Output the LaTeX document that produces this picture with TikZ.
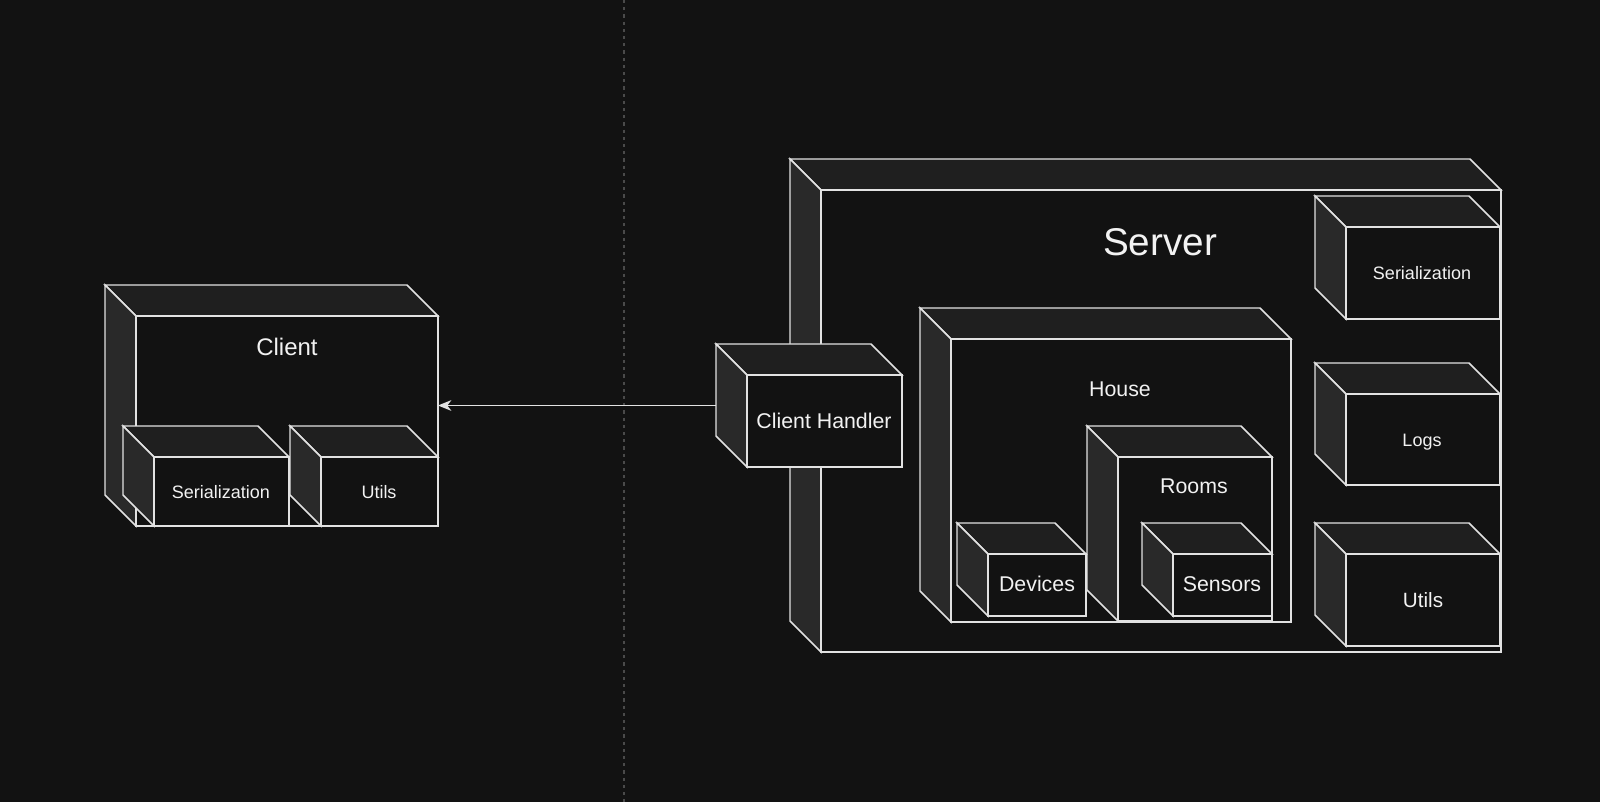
\documentclass[tikz,border=0pt]{standalone}
\usepackage{fontspec}
\setmainfont{Liberation Sans}
\usetikzlibrary{arrows.meta}
\definecolor{bgc}{HTML}{121212}
\definecolor{topc}{HTML}{1F1F1F}
\definecolor{sidec}{HTML}{292929}
\definecolor{linec}{HTML}{E2E2E2}
\definecolor{txtc}{HTML}{F2F2F2}
\definecolor{divc}{HTML}{4A4A4A}
\tikzset{
  edge/.style={draw=linec, line width=1.1pt, line join=miter},
  lbl/.style={text=txtc, inner sep=0pt, text depth=0pt, anchor=center},
  conn/.style={draw=linec, line width=1.1pt, -{Stealth[length=10pt,width=8pt,inset=3pt]}},
  divider/.style={draw=divc, line width=0.8pt, dash pattern=on 2.4pt off 3pt},
}
% name, x0, y0, x1, y1
\newcommand\cubeshape[5]{%
  \filldraw[edge, fill=topc] (#2,#3) -- ({#4-31},#3) -- (#4,{#3+31}) -- ({#2+31},{#3+31}) -- cycle;
  \filldraw[edge, fill=sidec] (#2,#3) -- ({#2+31},{#3+31}) -- ({#2+31},#5) -- (#2,{#5-31}) -- cycle;
  \filldraw[edge, fill=bgc] ({#2+31},{#3+31}) rectangle (#4,#5);
  \node[inner sep=0pt, outer sep=0pt, anchor=north west,
        minimum width={(#4-(#2))*0.75pt}, minimum height={(#5-(#3))*0.75pt}] (#1) at (#2,#3) {};
}
\begin{document}
\begin{tikzpicture}[x=0.75pt, y=-0.75pt]
  \fill[bgc] (0,0) rectangle (1600,802);
  \useasboundingbox (0,0) rectangle (1600,802);

  % divider
  \coordinate (divtop) at (624,0);
  \coordinate (divbot) at (624,802);
  \draw[divider] (divtop) -- (divbot);

  % Server side
  \cubeshape{server}{790}{159}{1501}{652}
  \node[lbl, font=\fontsize{29}{33}\selectfont] (serverlbl) at (1160,242) {Server};

  \cubeshape{house}{920}{308}{1291}{622}
  \node[lbl, font=\fontsize{16}{19}\selectfont] (houselbl) at (1120,389) {House};

  \cubeshape{rooms}{1087}{426}{1272}{621}
  \node[lbl, font=\fontsize{16}{19}\selectfont] (roomslbl) at (1194,486) {Rooms};

  \cubeshape{devices}{957}{523}{1086}{616}
  \node[lbl, font=\fontsize{16}{19}\selectfont] (deviceslbl) at (1037,584) {Devices};

  \cubeshape{sensors}{1142}{523}{1272}{616}
  \node[lbl, font=\fontsize{16}{19}\selectfont] (sensorslbl) at (1222,584) {Sensors};

  \cubeshape{sser}{1315}{196}{1500}{319}
  \node[lbl, font=\fontsize{13.5}{16}\selectfont] (sserlbl) at (1422,273) {Serialization};

  \cubeshape{slogs}{1315}{363}{1500}{485}
  \node[lbl, font=\fontsize{13.5}{16}\selectfont] (slogslbl) at (1422,440) {Logs};

  \cubeshape{sutils}{1315}{523}{1500}{646}
  \node[lbl, font=\fontsize{15.5}{18}\selectfont] (sutilslbl) at (1423,600) {Utils};

  \cubeshape{handler}{716}{344}{902}{467}
  \node[lbl, font=\fontsize{16}{19}\selectfont] (handlerlbl) at (824,421) {Client Handler};

  % Client side
  \cubeshape{client}{105}{285}{438}{526}
  \node[lbl, font=\fontsize{18}{21}\selectfont] (clientlbl) at (287,347) {Client};

  \cubeshape{cser}{123}{426}{289}{526}
  \node[lbl, font=\fontsize{13.5}{16}\selectfont] (cserlbl) at (221,492) {Serialization};

  \cubeshape{cutils}{290}{426}{438}{526}
  \node[lbl, font=\fontsize{13.5}{16}\selectfont] (cutilslbl) at (379,492) {Utils};

  % connector
  \draw[conn] (handler.west) -- (client.east);
\end{tikzpicture}
\end{document}
